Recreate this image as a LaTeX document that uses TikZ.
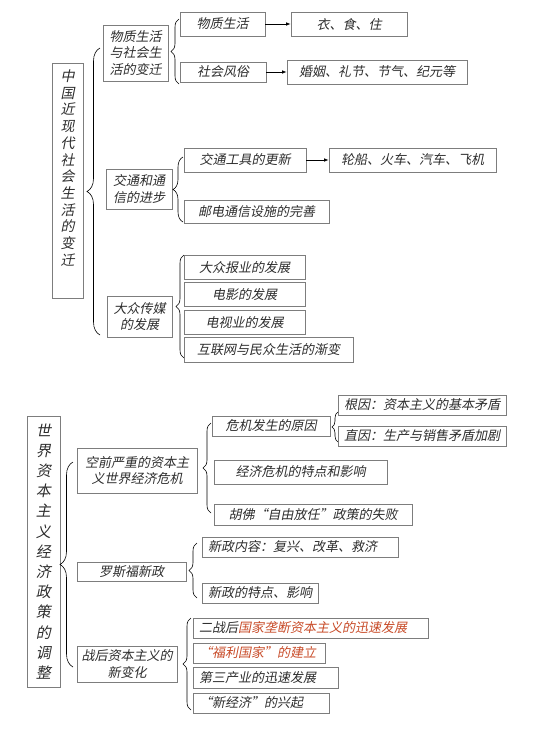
\documentclass[tikz,border=0pt]{standalone}
\usepackage{fontspec}
\usepackage{xcolor}
\usepackage{tikz}
\usetikzlibrary{arrows.meta,positioning,decorations.pathreplacing}
\newfontfamily\cjk[FakeSlant=0.2]{Noto Sans CJK SC}
\definecolor{BoxGray}{RGB}{125,125,125}
\definecolor{TxtGray}{RGB}{45,45,45}
\definecolor{HotRed}{RGB}{200,75,40}
\tikzset{
  box/.style={draw=BoxGray,line width=0.7pt,inner sep=0pt,align=center,text=TxtGray,
    font=\cjk\fontsize{13}{16.5}\selectfont},
  wh/.style 2 args={minimum width=#1,minimum height=#2},
  lbox/.style={box,align=left,inner xsep=6pt,text width=#1},
  curly/.style={draw,line width=0.6pt,decorate,decoration={brace,amplitude=#1}},
  link/.style={-{Latex[length=4.5pt,width=3.5pt]},line width=0.8pt}
}

\begin{document}
\begin{tikzpicture}[x=1pt,y=-1pt]
\useasboundingbox[fill=white](0,0)rectangle(541,734);
% upper map
\node[box,wh={31}{235}](cnbox)at(67.5,180.5){};
\node[text=TxtGray,align=center,inner sep=0pt,font=\cjk\fontsize{14}{16.7}\selectfont](cntxt)at(67.5,168)
  {中\\国\\近\\现\\代\\社\\会\\生\\活\\的\\变\\迁};
\draw[curly=13pt](100,335)--(100,48);
% material and social life
\node[box,wh={65}{56}](wzsh)at(135.5,53){物质生活\\与社会生\\活的变迁};
\draw[curly=8pt](179,84)--(179,19);
\node[box,wh={85}{24}](wz)at(222.5,24){物质生活};
\node[box,wh={116}{24}](yst)at(349,24){衣、食、住};
\node[box,wh={86}{20}](shfs)at(223,72){社会风俗};
\node[box,wh={180}{24}](hy)at(377,72){婚姻、礼节、节气、纪元等};
\draw[link](wz)--(yst);
\draw[link](shfs)--(hy);
% transport and communication
\node[box,wh={66}{40}](jt)at(139,189){交通和通\\信的进步};
\draw[curly=10pt](183,222)--(183,157);
\node[box,wh={122}{24}](jtgj)at(245,160){交通工具的更新};
\node[box,wh={167}{24}](lc)at(412.5,160){轮船、火车、汽车、飞机};
\node[box,wh={145}{23}](yd)at(256.5,211.5){邮电通信设施的完善};
\draw[link](jtgj)--(lc);
% mass media
\node[box,wh={65}{41}](dz)at(139.5,316.5){大众传媒\\的发展};
\draw[curly=8pt](184,358)--(184,255);
\foreach \n/\y/\t in {bk/267.5/大众报业的发展,dy/294.5/电影的发展,ds/322.5/电视业的发展}{
  \node[box,wh={121}{24}](\n)at(244.5,\y){\t};
}
\node[box,wh={169}{25}](hlw)at(268.5,349.5){互联网与民众生活的渐变};
% lower map
\node[box,wh={33}{271},font=\cjk\fontsize{15}{20.2}\selectfont](sjbox)at(43.5,551.5)
  {世\\界\\资\\本\\主\\义\\经\\济\\政\\策\\的\\调\\整};
\draw[curly=13pt](73,667)--(73,462);
% economic crisis
\node[box,wh={120}{45}](wj)at(137,470.5){空前严重的资本主\\义世界经济危机};
\draw[curly=8pt](211,513)--(211,423);
\node[box,wh={118}{20}](yy)at(271,426){危机发生的原因};
\draw[curly=6pt](338,442)--(338,412);
\node[box,wh={168}{20}](gy)at(422,405){根因：资本主义的基本矛盾};
\node[box,wh={168}{20}](zy)at(422,436){直因：生产与销售矛盾加剧};
\node[box,wh={173}{24}](td)at(300.5,472){经济危机的特点和影响};
\node[box,wh={198}{21}](hf)at(313,514.5){胡佛“自由放任”政策的失败};
% new deal
\node[box,wh={109}{19}](lsf)at(131.5,571.5){罗斯福新政};
\draw[curly=8pt](197,598)--(197,543);
\node[lbox=184,minimum height=20](xznr)at(300,547){新政内容：复兴、改革、救济};
\node[lbox=104,minimum height=20](xztd)at(260,593){新政的特点、影响};
% post-war changes
\node[box,wh={100}{36}](zh)at(127,664){战后资本主义的\\新变化};
\draw[curly=8pt](191,710)--(191,618);
\node[lbox=223,minimum height=20](ez)at(310.5,628){二战后\textcolor{HotRed}{国家垄断资本主义的迅速发展}};
\node[lbox=120,minimum height=20,text=HotRed](fl)at(259,653){“福利国家”的建立};
\node[lbox=133,minimum height=21](dscy)at(265.5,677.5){第三产业的迅速发展};
\node[lbox=124,minimum height=20](xjj)at(261,703){“新经济”的兴起};
\end{tikzpicture}
\end{document}
